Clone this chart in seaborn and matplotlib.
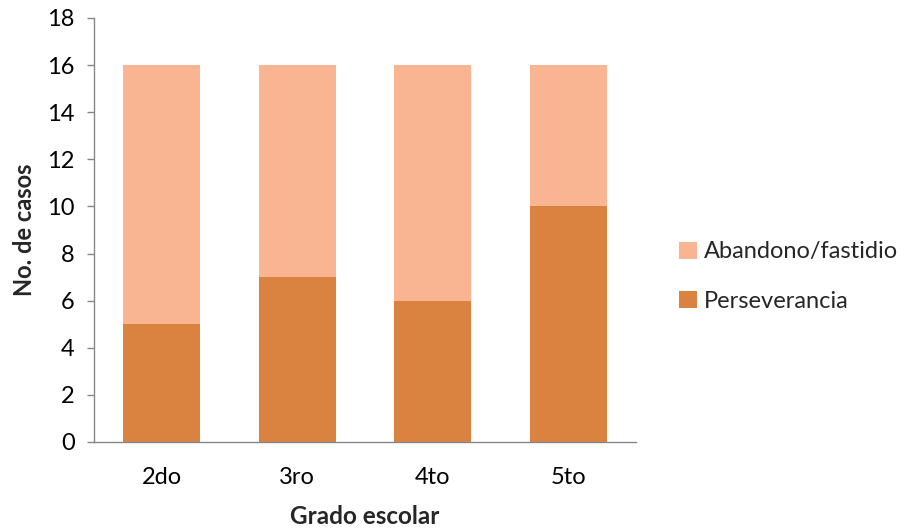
import matplotlib
matplotlib.use("Agg")
import matplotlib.pyplot as plt
import seaborn as sns
import pandas as pd

grados = ["2do", "3ro", "4to", "5to"]
perseverancia = [5, 7, 6, 10]
abandono = [11, 9, 10, 6]
yticks = [0, 2, 4, 6, 8, 10, 12, 14, 16, 18]

sns.set_theme(style="white")
plt.rcParams["font.family"] = ["Lato", "DejaVu Sans"]

color_pers = "#DA8340"
color_aban = "#F9B592"
axis_gray = "#868686"

df = pd.DataFrame({
    "grado": grados,
    "perseverancia": perseverancia,
    "total": [p + a for p, a in zip(perseverancia, abandono)],
})

fig = plt.figure(figsize=(9.06, 5.29), dpi=100)
ax = fig.add_axes([0.1038, 0.1645, 0.5982, 0.8015])

# stacked bars: draw total first, then the lower segment on top
sns.barplot(data=df, x="grado", y="total", color=color_aban, width=0.57,
            saturation=1, linewidth=0, ax=ax, label="Abandono/fastidio")
sns.barplot(data=df, x="grado", y="perseverancia", color=color_pers, width=0.57,
            saturation=1, linewidth=0, ax=ax, label="Perseverancia")

ax.set_xlim(-0.5, 3.5)
ax.set_ylim(0, 18)
ax.set_yticks(yticks)
ax.set_yticklabels([str(t) for t in yticks])

for side in ["top", "right"]:
    ax.spines[side].set_visible(False)
for side in ["left", "bottom"]:
    ax.spines[side].set_color(axis_gray)
    ax.spines[side].set_linewidth(1.0)

ax.tick_params(axis="y", which="major", left=True, length=5, width=1,
               color=axis_gray, direction="out", labelsize=17, pad=9,
               labelcolor="black")
ax.tick_params(axis="x", which="major", bottom=False, labelsize=17,
               pad=12, labelcolor="black")

ax.set_xlabel("Grado escolar", fontsize=17.5, fontweight="bold", labelpad=12)
ax.set_ylabel("No. de casos", fontsize=17, fontweight="bold", labelpad=8)

ax.legend(loc="center left", bbox_to_anchor=(1.04, 0.39), frameon=False,
          fontsize=17, handlelength=0.75, handleheight=0.75,
          handletextpad=0.3, labelspacing=1.2)

fig.savefig("out.png", dpi=100)
